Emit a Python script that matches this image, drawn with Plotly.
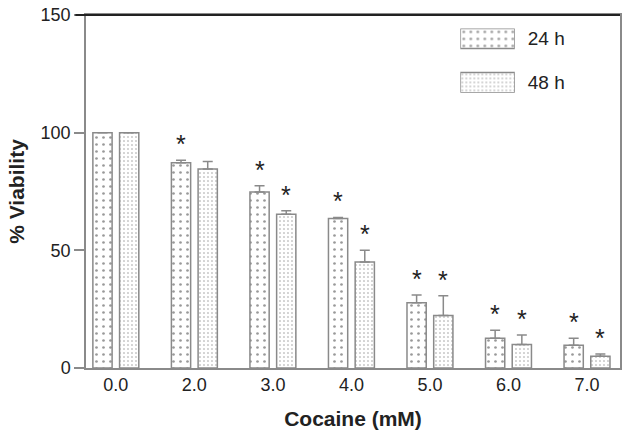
import plotly.graph_objects as go

# ----- data
doses = ["0.0", "2.0", "3.0", "4.0", "5.0", "6.0", "7.0"]
via_24h = [100, 87.2, 74.8, 63.5, 27.7, 12.6, 9.7]
err_24h = [0, 1.1, 2.6, 0.5, 3.3, 3.4, 2.9]
via_48h = [100, 84.6, 65.3, 45.0, 22.3, 10.0, 5.0]
err_48h = [0, 3.2, 1.5, 5.0, 8.4, 4.0, 0.9]
sig_24h = [False, True, True, True, True, True, True]
sig_48h = [False, False, True, True, True, True, True]
legend_labels = ["24 h", "48 h"]

pos = list(range(len(doses)))
GREY = "#8a8a8a"
FONT = "Liberation Sans, Arial, sans-serif"
BW = 0.245
OFF = 0.17

fig = go.Figure()

def bar_trace(vals, errs, shift, dot, name):
    return go.Bar(
        x=[p + shift for p in pos], y=vals, width=BW, name=name,
        marker=dict(color="white",
                    line=dict(color=GREY, width=1.5),
                    pattern=dict(shape=".", size=dot, solidity=0.12,
                                 fgcolor="#333333", bgcolor="white")),
        error_y=dict(type="data", array=errs, arrayminus=[0] * len(errs),
                     symmetric=False, color=GREY, thickness=1.5, width=5),
        showlegend=False,
    )

fig.add_trace(bar_trace(via_24h, err_24h, -OFF, 7, "24 h"))
fig.add_trace(bar_trace(via_48h, err_48h, OFF, 4, "48 h"))

# significance stars above the error bars
stars = []
for vals, errs, sig, shift in [(via_24h, err_24h, sig_24h, -OFF),
                               (via_48h, err_48h, sig_48h, OFF)]:
    for p, v, e, s in zip(pos, vals, errs, sig):
        if s:
            stars.append(dict(x=p + shift, y=v + e, text="*", showarrow=False,
                              xref="x", yref="y", yanchor="bottom", yshift=0,
                              font=dict(family=FONT, size=25, color="#222")))

# hand-made legend: wide patterned swatches on a small inset axis
for lab, dot in zip(legend_labels, [7, 4]):
    fig.add_trace(go.Bar(
        x=[1], y=[lab], orientation="h", width=0.455,
        xaxis="x2", yaxis="y2", showlegend=False, hoverinfo="skip",
        marker=dict(color="white", line=dict(color=GREY, width=1.5),
                    pattern=dict(shape=".", size=dot, solidity=0.12,
                                 fgcolor="#333333", bgcolor="white")),
    ))

fig.update_layout(
    width=627, height=432,
    margin=dict(l=86, r=5, t=11, b=64),
    plot_bgcolor="white", paper_bgcolor="white",
    font=dict(family=FONT, size=18, color="#222"),
    annotations=stars,
    xaxis=dict(range=[-0.38, 6.42], tickvals=pos, ticktext=doses,
               showgrid=False, zeroline=False, showline=True, mirror=True,
               linecolor=GREY, linewidth=1.5, ticks="",
               tickfont=dict(size=18),
               title=dict(text="<b>Cocaine (mM)</b>", font=dict(size=21),
                          standoff=17)),
    yaxis=dict(range=[0, 150], tickvals=[0, 50, 100, 150],
               showgrid=False, zeroline=False, showline=True, mirror=True,
               linecolor=GREY, linewidth=1.5, ticks="outside", ticklen=10,
               tickcolor=GREY, tickwidth=1.5, tickfont=dict(size=18),
               title=dict(text="<b>% Viability</b>", font=dict(size=21),
                          standoff=10)),
    xaxis2=dict(domain=[0.701, 0.803], range=[0, 1], visible=False,
                anchor="y2"),
    yaxis2=dict(domain=[0.78, 0.962], anchor="x2", side="right",
                range=[1.2275, -0.2275], showgrid=False, zeroline=False,
                showline=False, ticks="", tickfont=dict(size=19),
                ticklabelstandoff=12),
    shapes=[dict(type="line", xref="paper", yref="paper", x0=-0.02, x1=1,
                 y0=1, y1=1, line=dict(color="#222", width=2))],
)

fig.write_html("out.html", config={"displayModeBar": False},
               post_script="document.body.style.margin='0';")
